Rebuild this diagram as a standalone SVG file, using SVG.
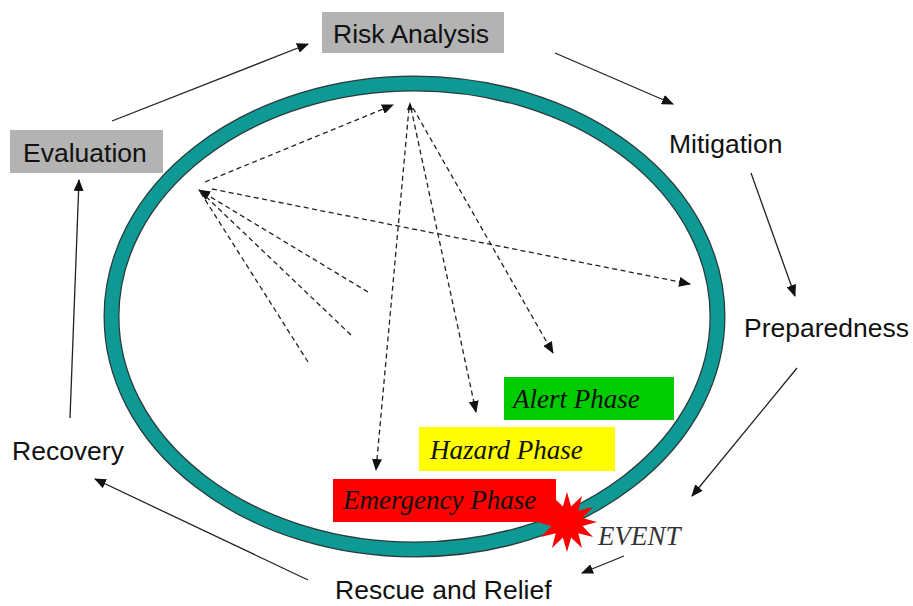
<svg xmlns="http://www.w3.org/2000/svg" width="913" height="606" viewBox="0 0 913 606">
<style>
.lbl{font-family:"Liberation Sans",Arial,sans-serif;font-size:26.5px;fill:#111}
.ph{font-family:"Liberation Serif","Times New Roman",serif;font-style:italic;font-size:27px;fill:#111}
.solid{stroke:#222;stroke-width:1.3;fill:none}
.dash{stroke:#222;stroke-width:1.3;fill:none;stroke-dasharray:5 3.5}
.gray{fill:#b3b3b3}
</style>
<defs>
<marker id="ah" markerUnits="userSpaceOnUse" markerWidth="12" markerHeight="10" refX="11" refY="5" orient="auto">
<path d="M0,0 L12,5 L0,10 Z" fill="#111"/>
</marker>
<marker id="ahs" markerUnits="userSpaceOnUse" markerWidth="8" markerHeight="6" refX="8" refY="3" orient="auto">
<path d="M0,0 L8,3 L0,6 Z" fill="#111"/>
</marker>
</defs>
<rect width="913" height="606" fill="#fff"/>
<g id="ring">
<ellipse cx="414.5" cy="316.5" rx="303" ry="233" fill="none" stroke="#2a3a3a" stroke-width="16"/>
<ellipse cx="414.5" cy="316.5" rx="303" ry="233" fill="none" stroke="#0f9995" stroke-width="13.5"/>
</g>
<g id="risk-analysis">
<rect class="gray" x="322" y="12" width="182" height="41"/>
<text class="lbl" x="333" y="43">Risk Analysis</text>
</g>
<g id="evaluation">
<rect class="gray" x="10" y="130" width="153" height="43"/>
<text class="lbl" x="23" y="162">Evaluation</text>
</g>
<g id="mitigation"><text class="lbl" x="669" y="153">Mitigation</text></g>
<g id="preparedness"><text class="lbl" x="744" y="337">Preparedness</text></g>
<g id="recovery"><text class="lbl" x="12" y="460">Recovery</text></g>
<g id="rescue"><text class="lbl" x="335" y="599">Rescue and Relief</text></g>
<g id="alert-phase">
<rect x="504" y="377" width="170" height="43" fill="#00cc00"/>
<text class="ph" x="513" y="408">Alert Phase</text>
</g>
<g id="hazard-phase">
<rect x="419" y="427" width="196" height="44" fill="#ffff00"/>
<text class="ph" x="430" y="459">Hazard Phase</text>
</g>
<g id="emergency-phase">
<rect x="333" y="479" width="223" height="43" fill="#ff0000"/>
<text class="ph" x="343" y="509">Emergency Phase</text>
</g>
<g id="event">
<polygon fill="#ff0000" points="567,492 571.1,506.5 582,496 578.3,510.7 593,507 582.5,517.9 597,522 582.5,526.1 593,537 578.3,533.3 582,548 571.1,537.5 567,552 562.9,537.5 552,548 555.7,533.3 541,537 551.5,526.1 537,522 551.5,517.9 541,507 555.7,510.7 552,496 562.9,506.5"/>
<text x="598" y="545" font-family="'Liberation Serif','Times New Roman',serif" font-style="italic" font-size="27" fill="#333">EVENT</text>
</g>
<g id="connectors">
<line class="solid" x1="112" y1="121" x2="308" y2="44" marker-end="url(#ah)"/>
<line class="solid" x1="555" y1="53" x2="673" y2="104" marker-end="url(#ah)"/>
<line class="solid" x1="751" y1="173" x2="795" y2="296" marker-end="url(#ah)"/>
<line class="solid" x1="797" y1="368" x2="692" y2="496" marker-end="url(#ah)"/>
<line class="solid" x1="624" y1="556" x2="582" y2="573" marker-end="url(#ah)"/>
<line class="solid" x1="308" y1="580" x2="95" y2="479" marker-end="url(#ah)"/>
<line class="solid" x1="70" y1="418" x2="79" y2="180" marker-end="url(#ah)"/>
<line class="dash" x1="368" y1="292" x2="199" y2="190" marker-end="url(#ah)"/>
<line class="dash" x1="351" y1="335" x2="199" y2="190"/>
<line class="dash" x1="308" y1="362" x2="199" y2="190"/>
<line class="dash" x1="205" y1="182" x2="393" y2="105" marker-end="url(#ah)"/>
<line class="dash" x1="212" y1="189" x2="690" y2="284" marker-end="url(#ah)"/>
<line class="dash" x1="410" y1="110" x2="410" y2="102" marker-end="url(#ahs)"/>
<line class="dash" x1="409" y1="108" x2="376" y2="470" marker-end="url(#ah)"/>
<line class="dash" x1="411" y1="108" x2="476" y2="412" marker-end="url(#ah)"/>
<line class="dash" x1="413" y1="108" x2="553" y2="353" marker-end="url(#ah)"/>
</g>
</svg>
